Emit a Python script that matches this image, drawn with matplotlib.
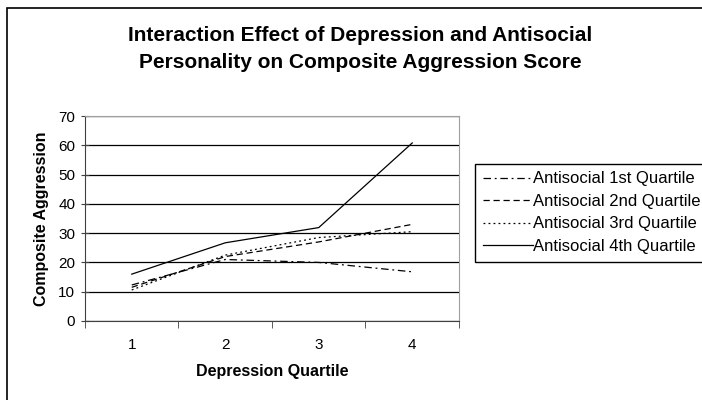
import matplotlib

matplotlib.use("Agg")
import matplotlib.pyplot as plt
from matplotlib.patches import Rectangle

plt.rcParams["font.family"] = ["Liberation Sans", "DejaVu Sans"]

quartiles = [1, 2, 3, 4]
tick_labels = ["1", "2", "3", "4"]
series_names = [
    "Antisocial 1st Quartile",
    "Antisocial 2nd Quartile",
    "Antisocial 3rd Quartile",
    "Antisocial 4th Quartile",
]
anti_q1 = [12.3, 21.0, 20.0, 16.8]
anti_q2 = [11.5, 22.0, 27.0, 33.0]
anti_q3 = [10.6, 22.5, 28.5, 30.5]
anti_q4 = [16.0, 26.7, 31.9, 60.8]

styles = [(0, (6, 3, 1.5, 3)), (0, (5, 3)), (0, (1.5, 2.5)), "-"]

fig = plt.figure(figsize=(7.02, 4.0), dpi=100)
ax = fig.add_axes([85 / 702, 1 - 321 / 400, (459 - 85) / 702, (321 - 116) / 400])

for vals, name, ls in zip([anti_q1, anti_q2, anti_q3, anti_q4], series_names, styles):
    ax.plot(quartiles, vals, color="black", linewidth=0.9, linestyle=ls, label=name)

ax.set_xlim(0.5, 4.5)
ax.set_ylim(0, 70)
ax.set_yticks(range(0, 71, 10))
ax.set_xticks(quartiles)
ax.set_xticklabels(tick_labels)
ax.set_xticks([0.5, 1.5, 2.5, 3.5, 4.5], minor=True)
ax.tick_params(axis="x", which="major", length=0, labelsize=11, pad=12)
ax.tick_params(axis="x", which="minor", length=5, direction="out", color="#404040")
ax.tick_params(axis="y", length=6, direction="inout", labelsize=11, color="#404040", pad=4)
ax.grid(axis="y", color="black", linewidth=0.9)
ax.set_axisbelow(True)
for side in ["top", "right"]:
    ax.spines[side].set_color("#a0a0a0")
for side in ["left", "bottom"]:
    ax.spines[side].set_color("#404040")

ax.set_xlabel("Depression Quartile", fontsize=11.5, fontweight="bold", labelpad=9)
ax.set_ylabel("Composite Aggression", fontsize=11.5, fontweight="bold", labelpad=7)

fig.text(360 / 702, 1 - 49 / 400,
         "Interaction Effect of Depression and Antisocial\nPersonality on Composite Aggression Score",
         ha="center", va="center", fontsize=15, fontweight="bold", linespacing=1.55)

fig.legend(loc="upper left", bbox_to_anchor=(475 / 702, 1 - 164 / 400), fontsize=12,
           frameon=True, fancybox=False, edgecolor="black", framealpha=1,
           handlelength=3.0, handletextpad=0.05, borderpad=0.45, labelspacing=0.45,
           borderaxespad=0)

fig.patches.append(Rectangle((7 / 702, -0.1), 1.2, 1 - 8 / 400 + 0.1, transform=fig.transFigure,
                             fill=False, edgecolor="black", linewidth=1.2))

fig.savefig("out.png", dpi=100)
plt.close(fig)
